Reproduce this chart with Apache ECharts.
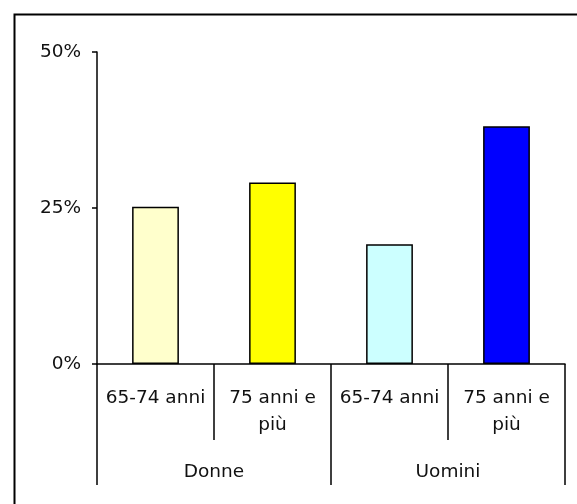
<!DOCTYPE html>
<html>
<head>
<meta charset="utf-8">
<script src="https://cdn.jsdelivr.net/npm/echarts@6/dist/echarts.min.js"></script>
<style>
html,body{margin:0;padding:0;background:#fff;}
#c{width:577px;height:504px;}
</style>
</head>
<body>
<div id="c"></div>
<script>
var categories = ['65-74 anni', '75 anni e\npiù', '65-74 anni', '75 anni e\npiù'];
var groups = ['Donne', 'Uomini'];
var values = [25.2, 29.1, 19.2, 38.1];
var barColors = ['#FFFFCC', '#FFFF00', '#CCFFFF', '#0000FF'];
var yTicks = [0, 25, 50];

var FONT = 'DejaVu Sans';
var chart = echarts.init(document.getElementById('c'));
chart.setOption({
  animation: false,
  backgroundColor: '#fff',
  graphic: [{
    type: 'rect', left: 12, top: 12,
    shape: { width: 600, height: 600 },
    style: { fill: 'none', stroke: '#000', lineWidth: 2 },
    silent: true, z: 100
  }],
  grid: { left: 97, right: 12, top: 52, bottom: 140, containLabel: false },
  xAxis: [{
    type: 'category',
    data: categories,
    position: 'bottom',
    axisLine: { show: true, lineStyle: { color: '#000', width: 1.5 } },
    axisTick: { show: true, interval: 0, length: 76, lineStyle: { color: '#000', width: 1.5 } },
    axisLabel: {
      interval: 0, margin: 21, color: '#111',
      fontFamily: FONT, fontSize: 18.5, lineHeight: 27, align: 'center', verticalAlign: 'top'
    },
    splitLine: { show: false }
  }, {
    type: 'category',
    data: groups,
    position: 'bottom',
    offset: 0,
    axisLine: { show: false },
    axisTick: { show: true, interval: 0, length: 121, lineStyle: { color: '#000', width: 1.5 } },
    axisLabel: {
      interval: 0, margin: 95, color: '#111',
      fontFamily: FONT, fontSize: 18.5, lineHeight: 27, verticalAlign: 'top'
    },
    splitLine: { show: false }
  }],
  yAxis: {
    type: 'value',
    min: yTicks[0], max: yTicks[yTicks.length - 1], interval: 25,
    axisLine: { show: true, lineStyle: { color: '#000', width: 1.5 } },
    axisTick: { show: true, length: 5, lineStyle: { color: '#000', width: 1.5 } },
    axisLabel: { formatter: '{value}%', margin: 16, color: '#111', fontFamily: FONT, fontSize: 18.5 },
    splitLine: { show: false }
  },
  series: [{
    type: 'bar',
    xAxisIndex: 0,
    barWidth: '40%',
    data: values.map(function (v, i) {
      return { value: v, itemStyle: { color: barColors[i], borderColor: '#000', borderWidth: 1.5 } };
    })
  }]
});
</script>
</body>
</html>
